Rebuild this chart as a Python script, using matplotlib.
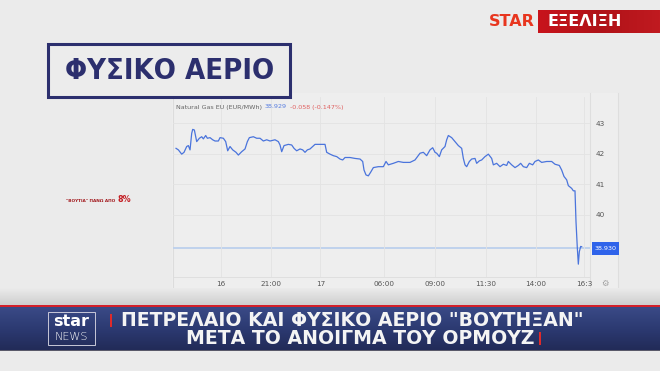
import numpy as np
import matplotlib.pyplot as plt
from matplotlib.patches import Rectangle
from matplotlib.colors import LinearSegmentedColormap

# price trace (trading-time units, EUR/MWh)
t = [48, 55, 65, 72, 80, 85, 90, 95, 98, 103, 110, 118, 125, 130, 137, 142, 150, 158,
     165, 175, 180, 190, 197, 203, 210, 218, 228, 235, 245, 255, 262, 268, 280, 290,
     300, 310, 320, 330, 345, 355, 360, 365, 372, 385, 395, 402, 410, 420, 428, 435,
     442, 450, 458, 465, 480, 495, 500, 510, 520, 530, 540, 548, 555, 570, 585, 600,
     608, 612, 618, 625, 632, 640, 655, 670, 678, 685, 700, 715, 730, 750, 765, 780,
     790, 800, 810, 818, 825, 830, 838, 845, 855, 860, 865, 875, 885, 895, 905, 910,
     915, 920, 928, 935, 945, 950, 958, 965, 975, 985, 995, 1000, 1010, 1020, 1030,
     1040, 1045, 1055, 1065, 1075, 1082, 1090, 1100, 1108, 1118, 1125, 1135, 1145,
     1160, 1175, 1185, 1198, 1205, 1212, 1220, 1225, 1235, 1240, 1245, 1248, 1252,
     1255, 1258, 1262, 1265]
price = [42.18, 42.13, 41.99, 42.05, 42.24, 42.27, 42.13, 42.67, 42.80, 42.78, 42.40,
         42.51, 42.56, 42.49, 42.60, 42.51, 42.53, 42.46, 42.42, 42.42, 42.53, 42.51,
         42.40, 42.10, 42.24, 42.13, 42.05, 41.96, 42.07, 42.16, 42.40, 42.53, 42.56,
         42.51, 42.51, 42.42, 42.46, 42.42, 42.46, 42.40, 42.29, 42.07, 42.27, 42.31,
         42.29, 42.18, 42.10, 42.16, 42.13, 42.05, 42.13, 42.16, 42.24, 42.31, 42.31,
         42.31, 42.05, 41.99, 41.94, 41.91, 41.83, 41.80, 41.88, 41.88, 41.85, 41.83,
         41.75, 41.47, 41.31, 41.28, 41.40, 41.55, 41.58, 41.58, 41.75, 41.64, 41.69,
         41.75, 41.72, 41.72, 41.80, 42.02, 42.05, 41.94, 42.13, 42.20, 42.05, 42.02,
         41.91, 42.13, 42.24, 42.46, 42.60, 42.53, 42.40, 42.27, 42.18, 41.85, 41.64,
         41.58, 41.75, 41.83, 41.85, 41.69, 41.77, 41.80, 41.91, 41.99, 41.85, 41.64,
         41.69, 41.58, 41.66, 41.62, 41.75, 41.64, 41.55, 41.62, 41.69, 41.58, 41.55,
         41.69, 41.64, 41.75, 41.80, 41.72, 41.75, 41.75, 41.66, 41.62, 41.47, 41.26,
         41.15, 40.96, 40.87, 40.79, 40.79, 39.78, 38.91, 38.39, 38.80, 38.97, 38.96]
last_price = 38.93
tick_pos = [182, 333, 481, 672, 826, 978, 1128, 1272]
tick_lbl = ["16", "21:00", "17", "06:00", "09:00", "11:30", "14:00", "16:3"]
y_ticks = [40, 41, 42, 43]

title = "ΦΥΣΙΚΟ ΑΕΡΙΟ"
note = "\"ΒΟΥΤΙΑ\" ΠΑΝΩ ΑΠΟ"
headline = ["ΠΕΤΡΕΛΑΙΟ ΚΑΙ ΦΥΣΙΚΟ ΑΕΡΙΟ \"ΒΟΥΤΗΞΑΝ\"", "ΜΕΤΑ ΤΟ ΑΝΟΙΓΜΑ ΤΟΥ ΟΡΜΟΥΖ"]

W, H = 660, 371
fig = plt.figure(figsize=(6.6, 3.71), dpi=100)
fig.patch.set_facecolor("#ebebeb")

# background layer in pixel coords
bg = fig.add_axes([0, 0, 1, 1], zorder=0)
bg.set_xlim(0, W)
bg.set_ylim(H, 0)
bg.axis("off")
bg.add_patch(Rectangle((172, 93), 446, 197, fc="#eeeeee", ec="none"))
bg.plot([172.5, 172.5], [93, 290], color="#dcdcdc", lw=0.8)
bg.plot([590, 590], [93, 290], color="#dedede", lw=0.8)
bg.plot([618, 618], [93, 290], color="#dedede", lw=0.8)
bg.text(605, 283, "⚙", color="#a0a0a0", fontsize=6, ha="center", va="center")

# chart
ax = fig.add_axes([172.7 / W, 1 - 277 / H, (590 - 172.7) / W, (277 - 97) / H], zorder=2)
ax.set_facecolor("none")
ax.set_xlim(38, 1290)
ax.set_ylim(37.97, 43.86)
ax.axhline(last_price, color="#bcd0ec", lw=1.3, zorder=1)
ax.plot(t, price, color="#4a74dc", lw=0.9, zorder=3)
ax.set_xticks(tick_pos)
ax.set_xticklabels(tick_lbl)
ax.set_yticks(y_ticks)
ax.yaxis.tick_right()
ax.tick_params(length=0, labelsize=5.2, colors="#555555", pad=4)
ax.tick_params(axis="x", pad=3)
ax.grid(color="#e3e3e3", lw=0.6)
for s in ["top", "left", "right"]:
    ax.spines[s].set_visible(False)
ax.spines["bottom"].set_color("#dddddd")
ax.spines["bottom"].set_linewidth(0.6)

# foreground layer
fg = fig.add_axes([0, 0, 1, 1], zorder=3)
fg.set_xlim(0, W)
fg.set_ylim(H, 0)
fg.axis("off")
fg.patch.set_alpha(0)

# legend line of the chart
fg.text(176, 107, "Natural Gas EU (EUR/MWh) ", fontsize=4.6, color="#666666", va="center")
fg.text(265, 107, "38.929", fontsize=4.6, color="#5a7fe0", va="center")
fg.text(290, 107, "-0.058 (-0.147%)", fontsize=4.6, color="#e06060", va="center")

# price tag
fg.add_patch(Rectangle((591.5, 241.5), 27.5, 13.5, fc="#2f63ea", ec="none"))
fg.text(605.2, 248.4, "38.930", fontsize=4.6, color="white", ha="center", va="center")

# title box
fg.add_patch(Rectangle((48, 43.5), 242, 53.5, fc="#ececec", ec="#2c2f6e", lw=2.2))
fg.text(170, 71, title, fontsize=21, fontweight="heavy", fontstretch="condensed",
        color="#2c2f6e", ha="center", va="center")

# side note
fg.text(115, 200.5, note, fontsize=3.1, fontweight="bold", color="#a31b1f",
        ha="right", va="center")
fg.text(118, 200, "8%", fontsize=5.8, fontweight="bold", color="#c41e24", va="center")

# channel logo
fg.text(535, 21, "STAR", fontsize=11.5, fontweight="bold", color="#e8361f",
        ha="right", va="center")
grad = np.linspace(0, 1, 100).reshape(1, -1)
red_cm = LinearSegmentedColormap.from_list("r", ["#c8141c", "#b01218", "#c01a20"])
fg.imshow(grad, cmap=red_cm, extent=(538, 660, 33, 10), aspect="auto", zorder=1)
fg.text(585, 21.5, "ΕΞΕΛΙΞΗ", fontsize=11.5, fontweight="bold", color="white",
        ha="center", va="center", zorder=2)

# shadow above the banner
sh = np.linspace(0, 1, 50).reshape(-1, 1)
sh_cm = LinearSegmentedColormap.from_list("s", ["#ebebeb", "#cdcdcd"])
fg.imshow(sh, cmap=sh_cm, extent=(0, W, 306, 288), aspect="auto", zorder=1)

# banner
band = np.linspace(0, 1, 50).reshape(-1, 1)
band_cm = LinearSegmentedColormap.from_list("b", ["#3a4a86", "#2c3a72", "#222b58"])
fg.imshow(band, cmap=band_cm, extent=(0, W, 350, 307), aspect="auto", zorder=1)
fg.add_patch(Rectangle((0, 305.3), W, 1.8, fc="#d4202a", ec="none", zorder=2))
fg.add_patch(Rectangle((0, 350), W, 1.2, fc="#5a5a6a", ec="none", zorder=2))

fg.add_patch(Rectangle((48, 312), 47, 33, fc="none", ec="#c8c8d8", lw=0.7, zorder=3))
fg.text(71.5, 322, "star", fontsize=11.5, fontweight="bold", color="white",
        ha="center", va="center", zorder=3)
fg.text(71.5, 337.5, "NEWS", fontsize=8, fontweight="light", color="white",
        ha="center", va="center", zorder=3)

fg.add_patch(Rectangle((110, 314), 2, 13, fc="#e02a2a", ec="none", zorder=3))
fg.text(352, 320.5, headline[0], fontsize=13.6, fontweight="bold", color="#f4f4f4",
        ha="center", va="center", zorder=3)
fg.text(360, 338.5, headline[1], fontsize=13.6, fontweight="bold", color="#f4f4f4",
        ha="center", va="center", zorder=3)
fg.add_patch(Rectangle((539, 332), 2, 13, fc="#e02a2a", ec="none", zorder=3))

fig.savefig("out.png", dpi=100, facecolor=fig.get_facecolor())
